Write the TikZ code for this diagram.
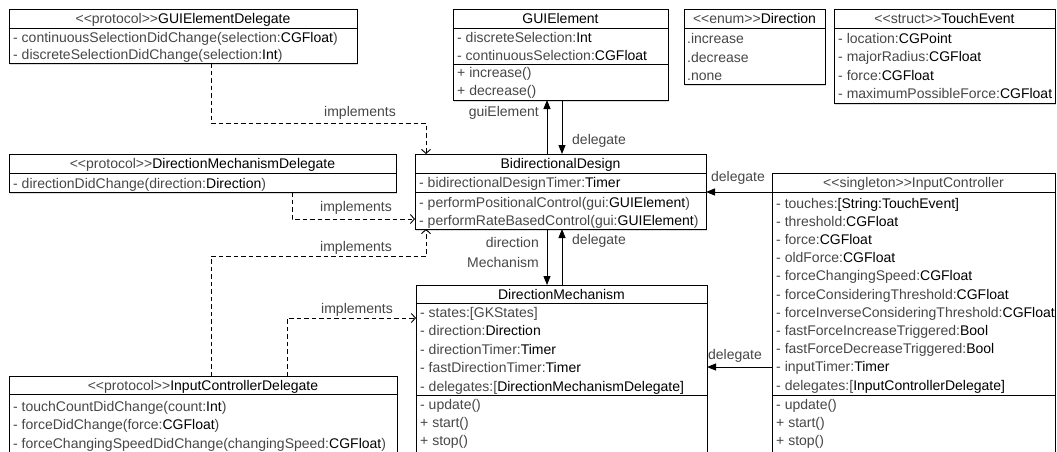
\documentclass[tikz,border=0pt]{standalone}
\usepackage{fontspec}
\setmainfont{Liberation Sans}[Ligatures=TeXOff]
\usetikzlibrary{arrows.meta,calc,shadows}

% type names are set darker than the rest of a member line
\newcommand\ty[1]{\textcolor{black}{#1}}
\newcommand\umlfont{\fontsize{14}{16}\selectfont}

\tikzset{
  cls/.style={draw, line width=1pt, fill=white, rectangle, outer sep=0pt, inner sep=0pt,
    anchor=north west,
    drop shadow={opacity=0.28, shadow xshift=0.6pt, shadow yshift=-2pt}},
  sepline/.style={line width=1pt},
  ttl/.style={anchor=base, inner sep=0pt, font=\umlfont, text=black!72},
  row/.style={anchor=base west, inner sep=0pt, font=\umlfont, text=black!72},
  lbl/.style={anchor=base, inner sep=0pt, font=\umlfont, text=black!72},
  impl/.style={line width=0.9pt, dash pattern=on 4.5pt off 3pt,
    -{Straight Barb[length=4pt,width=9pt,line width=0.9pt]}},
  assoc/.style={line width=0.9pt, -{Triangle[length=9pt,width=7pt]}},
}

\begin{document}
\begin{tikzpicture}[x=1pt,y=-1pt]
\useasboundingbox (0,0) rectangle (1057,451);
\fill[white] (0,0) rectangle (1057,451);
\clip (0,0) rectangle (1057,451);

% ---------- class boxes ----------
\node[cls, minimum width=348pt, minimum height=54pt] (ged) at (9,9) {};
\node[cls, minimum width=215pt, minimum height=91pt] (gel) at (453,9) {};
\node[cls, minimum width=141pt, minimum height=75pt] (dir) at (684,9) {};
\node[cls, minimum width=221pt, minimum height=94pt] (tev) at (834,9) {};
\node[cls, minimum width=387pt, minimum height=38pt] (dmd) at (9,154) {};
\node[cls, minimum width=291pt, minimum height=75pt] (bd) at (415,154) {};
\node[cls, minimum width=283pt, minimum height=290pt] (ic) at (772,173) {};
\node[cls, minimum width=291pt, minimum height=180pt] (dm) at (416,285) {};
\node[cls, minimum width=388pt, minimum height=90pt] (icd) at (9,376) {};

% ---------- compartment separators ----------
\draw[sepline] ($(ged.north west)+(0,19)$) -- ($(ged.north east)+(0,19)$);
\draw[sepline] ($(gel.north west)+(0,19)$) -- ($(gel.north east)+(0,19)$);
\draw[sepline] ($(gel.north west)+(0,55)$) -- ($(gel.north east)+(0,55)$);
\draw[sepline] ($(dir.north west)+(0,19)$) -- ($(dir.north east)+(0,19)$);
\draw[sepline] ($(tev.north west)+(0,19)$) -- ($(tev.north east)+(0,19)$);
\draw[sepline] ($(dmd.north west)+(0,19)$) -- ($(dmd.north east)+(0,19)$);
\draw[sepline] ($(bd.north west)+(0,19)$) -- ($(bd.north east)+(0,19)$);
\draw[sepline] ($(bd.north west)+(0,38)$) -- ($(bd.north east)+(0,38)$);
\draw[sepline] ($(ic.north west)+(0,19)$) -- ($(ic.north east)+(0,19)$);
\draw[sepline] ($(ic.north west)+(0,222)$) -- ($(ic.north east)+(0,222)$);
\draw[sepline] ($(dm.north west)+(0,18)$) -- ($(dm.north east)+(0,18)$);
\draw[sepline] ($(dm.north west)+(0,110)$) -- ($(dm.north east)+(0,110)$);
\draw[sepline] ($(icd.north west)+(0,18)$) -- ($(icd.north east)+(0,18)$);

% ---------- GUIElementDelegate ----------
\node[ttl] (ged-t) at (183,23.5) {<<protocol>>\ty{GUIElementDelegate}};
\node[row] (ged-1) at (13,42.5) {- continuousSelectionDidChange(selection:\ty{CGFloat})};
\node[row] (ged-2) at (13,59.5) {- discreteSelectionDidChange(selection:\ty{Int})};

% ---------- GUIElement ----------
\node[ttl] (gel-t) at (560.5,23.5) {\ty{GUIElement}};
\node[row] (gel-1) at (457,42) {- discreteSelection:\ty{Int}};
\node[row] (gel-2) at (457,60) {- continuousSelection:\ty{CGFloat}};
\node[row] (gel-3) at (457,77.5) {+ increase()};
\node[row] (gel-4) at (457,95) {+ decrease()};

% ---------- Direction ----------
\node[ttl] (dir-t) at (754.5,23.5) {<<enum>>\ty{Direction}};
\node[row] (dir-1) at (687,43.5) {.increase};
\node[row] (dir-2) at (687,62) {.decrease};
\node[row] (dir-3) at (687,80) {.none};

% ---------- TouchEvent ----------
\node[ttl] (tev-t) at (944.5,23.5) {<<struct>>\ty{TouchEvent}};
\node[row] (tev-1) at (838,43) {- location:\ty{CGPoint}};
\node[row] (tev-2) at (838,61.5) {- majorRadius:\ty{CGFloat}};
\node[row] (tev-3) at (838,80) {- force:\ty{CGFloat}};
\node[row] (tev-4) at (838,98.5) {- maximumPossibleForce:\ty{CGFloat}};

% ---------- DirectionMechanismDelegate ----------
\node[ttl] (dmd-t) at (202.5,168.5) {<<protocol>>\ty{DirectionMechanismDelegate}};
\node[row] (dmd-1) at (13,188) {- directionDidChange(direction:\ty{Direction})};

% ---------- BidirectionalDesign ----------
\node[ttl] (bd-t) at (560.5,168.5) {\ty{BidirectionalDesign}};
\node[row] (bd-1) at (419,187.5) {- bidirectionalDesignTimer:\ty{Timer}};
\node[row] (bd-2) at (419,207) {- performPositionalControl(gui:\ty{GUIElement})};
\node[row] (bd-3) at (419,225) {- performRateBasedControl(gui:\ty{GUIElement})};

% ---------- InputController ----------
\node[ttl] (ic-t) at (913.5,187.5) {<<singleton>>InputController};
\foreach \txt [count=\i] in {
  {- touches:\ty{[String:TouchEvent]}},
  {- threshold:\ty{CGFloat}},
  {- force:\ty{CGFloat}},
  {- oldForce:\ty{CGFloat}},
  {- forceChangingSpeed:\ty{CGFloat}},
  {- forceConsideringThreshold:\ty{CGFloat}},
  {- forceInverseConsideringThreshold:\ty{CGFloat}},
  {- fastForceIncreaseTriggered:\ty{Bool}},
  {- fastForceDecreaseTriggered:\ty{Bool}},
  {- inputTimer:\ty{Timer}},
  {- delegates:[\ty{InputControllerDelegate]}}}
  \node[row] (ic-\i) at (776,{208+18.2*(\i-1)}) {\txt};
\node[row] (ic-m1) at (776,409) {- update()};
\node[row] (ic-m2) at (776,427) {+ start()};
\node[row] (ic-m3) at (776,445) {+ stop()};

% ---------- DirectionMechanism ----------
\node[ttl] (dm-t) at (561.5,299) {\ty{DirectionMechanism}};
\node[row] (dm-1) at (420,317) {- states:[GKStates]};
\node[row] (dm-2) at (420,335) {- direction:\ty{Direction}};
\node[row] (dm-3) at (420,354) {- directionTimer:\ty{Timer}};
\node[row] (dm-4) at (420,372) {- fastDirectionTimer:\ty{Timer}};
\node[row] (dm-5) at (420,391) {- delegates:[\ty{DirectionMechanismDelegate]}};
\node[row] (dm-m1) at (420,409) {- update()};
\node[row] (dm-m2) at (420,427) {+ start()};
\node[row] (dm-m3) at (420,445) {+ stop()};

% ---------- InputControllerDelegate ----------
\node[ttl] (icd-t) at (203,390) {<<protocol>>\ty{InputControllerDelegate}};
\node[row] (icd-1) at (13,411) {- touchCountDidChange(count:\ty{Int})};
\node[row] (icd-2) at (13,429) {- forceDidChange(force:\ty{CGFloat})};
\node[row] (icd-3) at (13,448) {- forceChangingSpeedDidChange(changingSpeed:\ty{CGFloat})};

% ---------- bend points and lanes ----------
\coordinate (j1a) at (211,123);
\coordinate (j1b) at (426,123);
\coordinate (j2a) at (292,219);
\coordinate (j3a) at (211,256);
\coordinate (j3b) at (426,256);
\coordinate (j4a) at (287,318);
\coordinate (xa) at (547,0);
\coordinate (xb) at (562,0);
\coordinate (ya) at (0,192);
\coordinate (yb) at (0,367);

% ---------- realisations (dashed) ----------
\draw[impl] (ged.south -| j1a) -- (j1a) -- (j1b) -- (bd.north -| j1b);
\draw[impl] (dmd.south -| j2a) -- (j2a) -- (bd.west |- j2a);
\draw[impl] (icd.north -| j3a) -- (j3a) -- (j3b) -- (bd.south -| j3b);
\draw[impl] (icd.north -| j4a) -- (j4a) -- (dm.west |- j4a);

\node[lbl] (l-impl1) at (360,116.5) {implements};
\node[lbl] (l-impl2) at (356,211.5) {implements};
\node[lbl] (l-impl3) at (356,251.5) {implements};
\node[lbl] (l-impl4) at (357,313.5) {implements};

% ---------- associations ----------
\draw[assoc] (bd.north -| xa) -- (gel.south -| xa);
\draw[assoc] (gel.south -| xb) -- (bd.north -| xb);
\draw[assoc] (bd.south -| xa) -- (dm.north -| xa);
\draw[assoc] (dm.north -| xb) -- (bd.south -| xb);
\draw[assoc] (ic.west |- ya) -- (bd.east |- ya);
\draw[assoc] (ic.west |- yb) -- (dm.east |- yb);

\node[lbl, anchor=base east] (l-gui) at (539,116.5) {guiElement};
\node[lbl, anchor=base west] (l-del1) at (572,144.5) {delegate};
\node[lbl, anchor=base east] (l-dir1) at (539,247.5) {direction};
\node[lbl, anchor=base east] (l-dir2) at (539,267.5) {Mechanism};
\node[lbl, anchor=base west] (l-del2) at (572,244.5) {delegate};
\node[lbl] (l-del3) at (738,181) {delegate};
\node[lbl] (l-del4) at (735,359.5) {delegate};
\end{tikzpicture}
\end{document}
